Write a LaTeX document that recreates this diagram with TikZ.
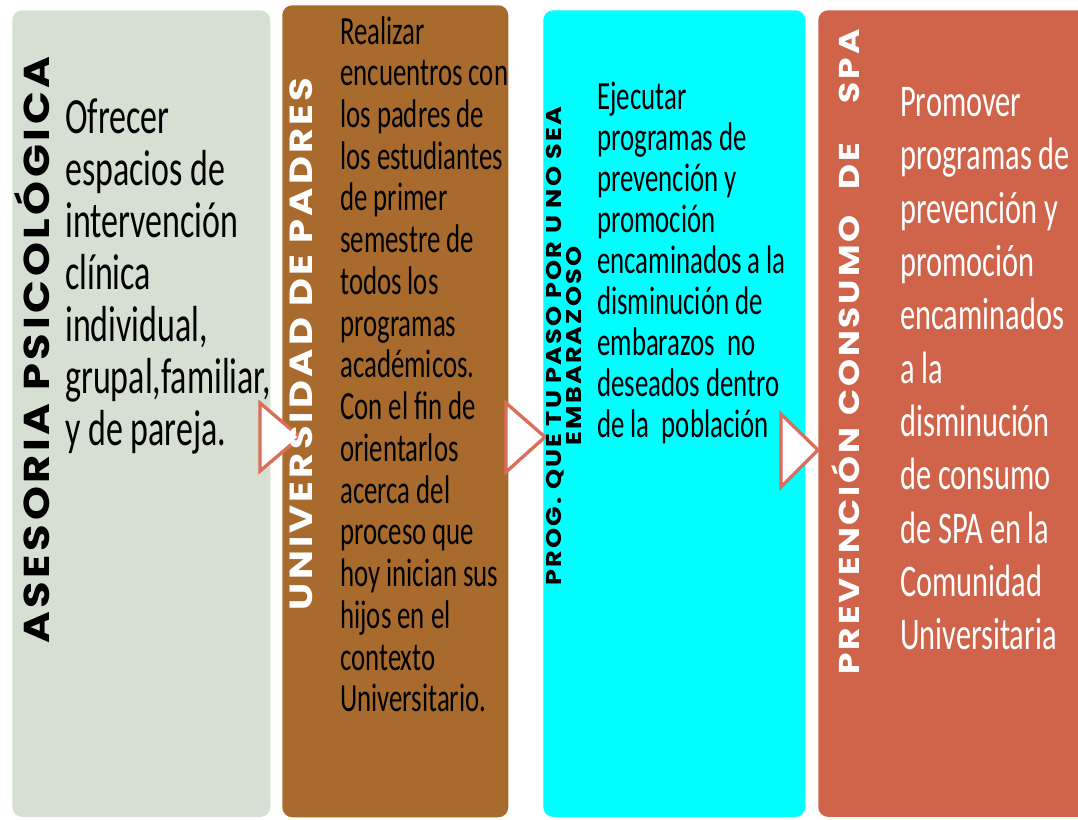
\documentclass[tikz,border=0pt]{standalone}
\usepackage{fontspec}
\newfontfamily\bodyfont[FakeStretch=0.67]{Carlito}
\newfontfamily\headfont[FakeStretch=1.2,LetterSpace=10]{Poppins}
\usetikzlibrary{positioning}

\definecolor{sage}{HTML}{D5E0D3}
\definecolor{bark}{HTML}{A86B2D}
\definecolor{aqua}{HTML}{00FFFF}
\definecolor{brick}{HTML}{D0644B}
\definecolor{chevred}{HTML}{DB6E5A}

\tikzset{
    panel/.style={rounded corners=7.5pt, minimum width=#1, minimum height=605pt,
        anchor=north west, inner sep=0pt},
    chev/.style={draw=chevred, fill=white, line width=2.5pt},
    head/.style={rotate=90, inner sep=0pt, font=\headfont\bfseries},
    body/.style={anchor=north west, align=left, inner sep=0pt}
}

\begin{document}
\begin{tikzpicture}[x=0.75pt,y=-0.75pt]
    \useasboundingbox (0,0) rectangle (1078,819);
    % columns
    \node[panel=193.5pt, fill=sage] (p1) at (12,10) {};
    \node[panel=169.5pt, minimum height=609pt, fill=bark] (p2) at (282,5) {};
    \node[panel=196.5pt, fill=aqua] (p3) at (543,10) {};
    \node[panel=210pt, fill=brick] (p4) at (818,10) {};
    % chevrons between columns
    \draw[chev] (260,403) -- (300,437) -- (260,471) -- cycle;
    \draw[chev] (506,403) -- (545,437) -- (506,472) -- cycle;
    \draw[chev] (781,414) -- (818,450) -- (781,487) -- cycle;
    % titles
    \node[head, font=\headfont\bfseries\fontsize{27pt}{27pt}\selectfont] (t1) at (32,350) {ASESORIA PSICOLÓGICA};
    \node[head, text=white, font=\headfont\bfseries\fontsize{24pt}{24pt}\selectfont] (t2) at (301,344) {UNIVERSIDAD DE PADRES};
    \node[head, align=center, font=\headfont\bfseries\fontsize{16pt}{13pt}\selectfont] (t3) at (564,346) {PROG. QUE TU PASO POR U NO SEA\\EMBARAZOSO};
    \node[head, text=white, font=\headfont\bfseries\fontsize{21.5pt}{21.5pt}\selectfont] (t4) at (846,352)
        {PREVENCIÓN\hspace{1pt} CONSUMO\hspace{12pt} DE\hspace{22pt} SPA};
    % texts
    \node[body, font=\bodyfont\fontsize{38pt}{39pt}\selectfont] (b1) at (65,98)
        {Ofrecer\\espacios de\\intervención\\clínica\\individual,\\grupal,familiar,\\y de pareja.};
    \node[body, font=\bodyfont\fontsize{30pt}{31.3pt}\selectfont] (b2) at (340,16)
        {Realizar\\encuentros con\\los padres de\\los estudiantes\\de primer\\semestre de\\todos los\\programas\\académicos.\\Con el fin de\\orientarlos\\acerca del\\proceso que\\hoy inician sus\\hijos en el\\contexto\\Universitario.};
    \node[body, font=\bodyfont\fontsize{30pt}{30.7pt}\selectfont] (b3) at (597,82)
        {Ejecutar\\programas de\\prevención y\\promoción\\encaminados a la\\disminución de\\embarazos~ no\\deseados dentro\\de la~ población};
    \node[body, text=white, font=\bodyfont\fontsize{34pt}{40pt}\selectfont] (b4) at (900,87)
        {Promover\\programas de\\prevención y\\promoción\\encaminados\\a la\\disminución\\de consumo\\de SPA en la\\Comunidad\\Universitaria};
\end{tikzpicture}
\end{document}
